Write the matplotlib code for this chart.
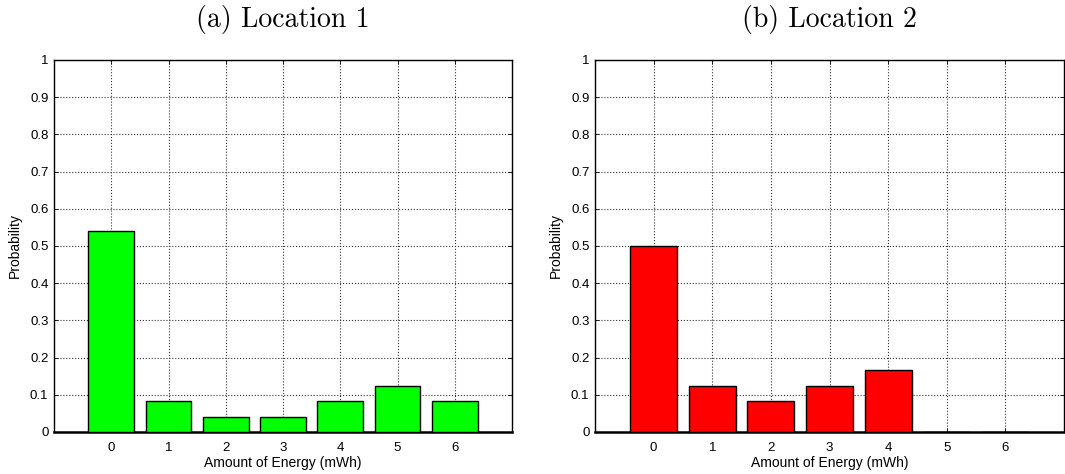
import numpy as np
from matplotlib import pyplot as plt

energy = [0, 1, 2, 3, 4, 5, 6]
loc1_prob = [13 / 24, 2 / 24, 1 / 24, 1 / 24, 2 / 24, 3 / 24, 2 / 24]
loc2_prob = [12 / 24, 3 / 24, 2 / 24, 3 / 24, 4 / 24, 0.0, 0.0]
yticks = [0, 0.1, 0.2, 0.3, 0.4, 0.5, 0.6, 0.7, 0.8, 0.9, 1]
ytick_labels = ['0', '0.1', '0.2', '0.3', '0.4', '0.5', '0.6', '0.7', '0.8', '0.9', '1']
titles = ['(a) Location 1', '(b) Location 2']
colors = ['#00ff00', '#ff0000']

plt.rcParams['font.family'] = ['Liberation Sans', 'DejaVu Sans']

W, H = 1065, 474
fig = plt.figure(figsize=(W / 100, H / 100), dpi=100)

# axes boxes in pixels: left, right, top, bottom
boxes = [(54, 512, 60, 432), (595, 1064, 60, 432)]

for (l, r, t, b), vals, title, col in zip(boxes, [loc1_prob, loc2_prob], titles, colors):
    ax = fig.add_axes([l / W, 1 - b / H, (r - l) / W, (b - t) / H])
    ax.bar(energy, vals, width=0.8, color=col, edgecolor='black', linewidth=1.0, zorder=3)
    ax.set_xlim(-1, 7)
    ax.set_ylim(0, 1)
    ax.set_xticks(energy)
    ax.set_yticks(yticks)
    ax.set_yticklabels(ytick_labels)
    ax.tick_params(direction='in', length=3, labelsize=9.5, width=0.6, top=True, right=True, pad=4)
    ax.tick_params(axis='x', pad=7)
    ax.grid(True, linestyle=':', color='#333333', linewidth=0.8, zorder=0)
    ax.set_axisbelow(True)
    for s in ax.spines.values():
        s.set_linewidth(1.0)
    ax.spines['bottom'].set_linewidth(1.8)
    ax.set_xlabel('Amount of Energy (mWh)', fontsize=10, labelpad=2)
    ax.set_ylabel('Probability', fontsize=10, labelpad=6)
    fig.text((l + r) / 2 / W, 1 - 20 / H, title, ha='center', va='center',
             fontsize=20, family='cmr10')

fig.savefig('out.png', dpi=100)
